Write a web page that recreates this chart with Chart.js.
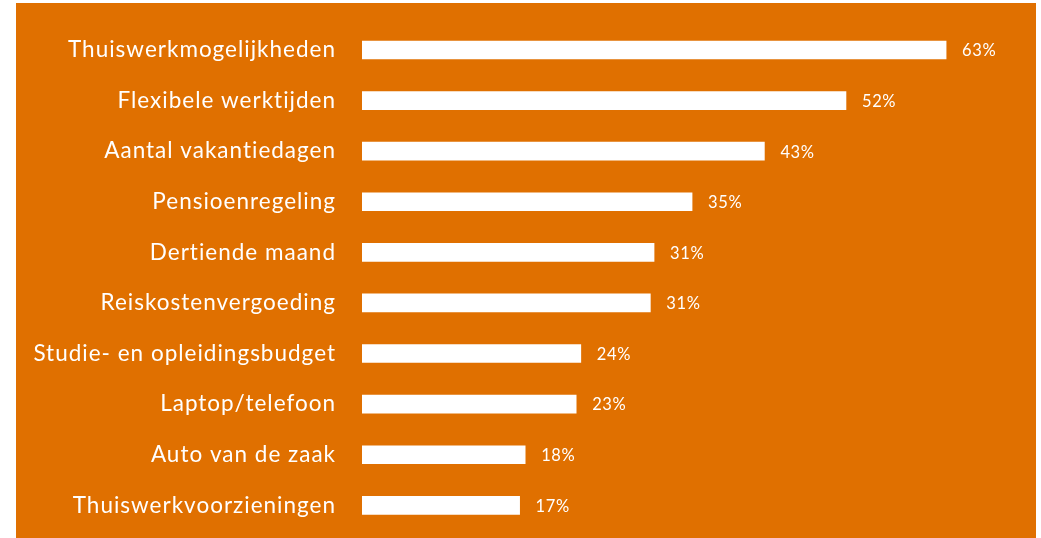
<!DOCTYPE html>
<html>
<head>
<meta charset="utf-8">
<script src="https://cdn.jsdelivr.net/npm/chart.js@4/dist/chart.umd.min.js"></script>
<style>
  html, body { margin: 0; padding: 0; background: #ffffff; width: 1041px; height: 538px; overflow: hidden; }
  #wrap { position: absolute; left: 16px; top: 3px; width: 1020px; height: 535px; background: #E07000; }
  canvas { display: block; }
</style>
</head>
<body>
<div id="wrap"><canvas id="c" width="1020" height="535"></canvas></div>
<script>
const categories = [
  "Thuiswerkmogelijkheden",
  "Flexibele werktijden",
  "Aantal vakantiedagen",
  "Pensioenregeling",
  "Dertiende maand",
  "Reiskostenvergoeding",
  "Studie- en opleidingsbudget",
  "Laptop/telefoon",
  "Auto van de zaak",
  "Thuiswerkvoorzieningen"
];
const values = [63, 52.2, 43.4, 35.6, 31.5, 31.1, 23.6, 23.1, 17.6, 17.0];
const valueLabels = ["63%", "52%", "43%", "35%", "31%", "31%", "24%", "23%", "18%", "17%"];

const spacingPlugin = {
  id: 'spacing',
  beforeDraw(chart) { chart.ctx.letterSpacing = '1px'; }
};

const valueLabelPlugin = {
  id: 'valueLabels',
  afterDatasetsDraw(chart) {
    const ctx = chart.ctx;
    const meta = chart.getDatasetMeta(0);
    ctx.save();
    ctx.letterSpacing = '0.6px';
    ctx.fillStyle = '#ffffff';
    ctx.font = '16.5px Lato, "Open Sans", sans-serif';
    ctx.textAlign = 'left';
    ctx.textBaseline = 'middle';
    meta.data.forEach((bar, i) => {
      ctx.fillText(valueLabels[i], bar.x + 16, bar.y + 1);
    });
    ctx.restore();
  }
};

new Chart(document.getElementById('c'), {
  type: 'bar',
  data: {
    labels: categories,
    datasets: [{
      data: values,
      backgroundColor: '#ffffff',
      borderWidth: 0,
      barThickness: 18
    }]
  },
  options: {
    indexAxis: 'y',
    responsive: false,
    animation: false,
    maintainAspectRatio: false,
    layout: { padding: { left: 0, right: 25, top: 21.7, bottom: 7.4 } },
    plugins: {
      legend: { display: false },
      tooltip: { enabled: false }
    },
    scales: {
      x: {
        min: 0,
        max: 70,
        display: false,
        grid: { display: false }
      },
      y: {
        afterFit(scale) { scale.width = 346; scale.paddingTop = 0; scale.paddingBottom = 0; },
        grid: { display: false, drawTicks: false },
        border: { display: false },
        ticks: {
          color: '#ffffff',
          padding: 26,
          font: { family: 'Lato, "Open Sans", sans-serif', size: 22.5 }
        }
      }
    }
  },
  plugins: [spacingPlugin, valueLabelPlugin]
});
</script>
</body>
</html>
